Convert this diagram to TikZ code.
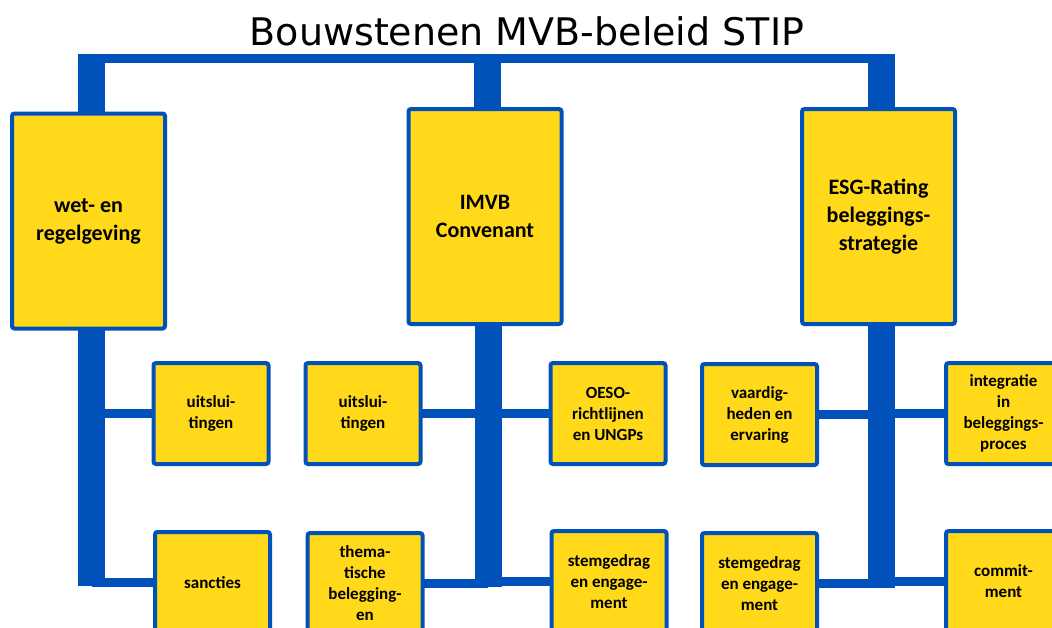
\documentclass[tikz,border=0pt]{standalone}
\usepackage{fontspec}
\setmainfont{Carlito}
\newfontfamily\titlefont{DejaVu Sans}
\definecolor{mvbblue}{RGB}{0,82,186}
\definecolor{mvbyellow}{RGB}{255,217,26}
\begin{document}
\begin{tikzpicture}[x=1pt,y=-1pt,
  box/.style={draw=mvbblue, fill=mvbyellow, line width=4pt, rounded corners=2.5pt,
    inner sep=0pt, outer sep=0pt, align=center, text=black},
  bigbox/.style={box, minimum width=153pt, minimum height=215pt,
    font=\bfseries\fontsize{22}{28}\selectfont},
  smallbox/.style={box, minimum width=115pt, minimum height=101pt,
    font=\bfseries\fontsize{17}{21}\selectfont},
  bus/.style={draw=mvbblue, line width=27pt},
  branch/.style={draw=mvbblue, line width=9.5pt}]
\useasboundingbox (0,0) rectangle (1052,627);
\clip (0,0) rectangle (1052,627);

% title
\node[font=\titlefont\fontsize{38}{44}\selectfont, anchor=base, inner sep=0pt] (title) at (527,45) {Bouwstenen MVB-beleid STIP};

% big boxes
\node[bigbox] (bigL) at (88.5,221) {wet- en\\regelgeving};
\node[bigbox] (bigC) at (485,216.5) {IMVB\\Convenant};
\node[bigbox] (bigR) at (878.5,216.5) {ESG-Rating\\beleggings-\\strategie};

% small boxes
\node[smallbox] (L1) at (211,413.5) {uitslui-\\tingen};
\node[smallbox] (L2) at (212.5,582.5) {sancties};
\node[smallbox] (C1) at (363,413.5) {uitslui-\\tingen};
\node[smallbox] (C2) at (608,413.5) {OESO-\\richtlijnen\\en UNGPs};
\node[smallbox] (C3) at (365,583.5) {thema-\\tische\\belegging-\\en};
\node[smallbox] (C4) at (609,581.5) {stemgedrag\\en engage-\\ment};
\node[smallbox] (R1) at (759.5,414.5) {vaardig-\\heden en\\ervaring};
\node[smallbox] (R2) at (1003.5,413.5) {integratie\\in\\beleggings-\\proces};
\node[smallbox] (R3) at (759.5,583.5) {stemgedrag\\en engage-\\ment};
\node[smallbox] (R4) at (1003.5,581.5) {commit-\\ment};

% bus coordinates
\coordinate (barL) at (78,58.5);
\coordinate (barR) at (895,58.5);
\coordinate (colL) at (91.5,54);
\coordinate (colC) at (487.5,54);
\coordinate (colR) at (881.5,54);
\coordinate (endL) at (91.5,586);
\coordinate (endC) at (488,587);
\coordinate (endR) at (881.5,588);

% top bar and drops
\draw[branch, line width=9pt] (barL) -- (barR);
\draw[bus] (colL) -- (colL |- bigL.north);
\draw[bus] (colC) -- (colC |- bigC.north);
\draw[bus] (colR) -- (colR |- bigR.north);

% lower trunks
\draw[bus] (endL |- bigL.south) -- (endL);
\draw[bus] (endC |- bigC.south) -- (endC);
\draw[bus] (endR |- bigR.south) -- (endR);

% branches
\draw[branch] (endL |- L1.west) -- (L1.west);
\draw[branch] (endL |- L2.west) -- (L2.west);
\draw[branch] (endC |- C1.east) -- (C1.east);
\draw[branch] (endC |- C2.west) -- (C2.west);
\draw[branch] (endC |- C3.east) -- (C3.east);
\draw[branch] (endC |- C4.west) -- (C4.west);
\draw[branch] (endR |- R1.east) -- (R1.east);
\draw[branch] (endR |- R2.west) -- (R2.west);
\draw[branch] (endR |- R3.east) -- (R3.east);
\draw[branch] (endR |- R4.west) -- (R4.west);
\end{tikzpicture}
\end{document}
